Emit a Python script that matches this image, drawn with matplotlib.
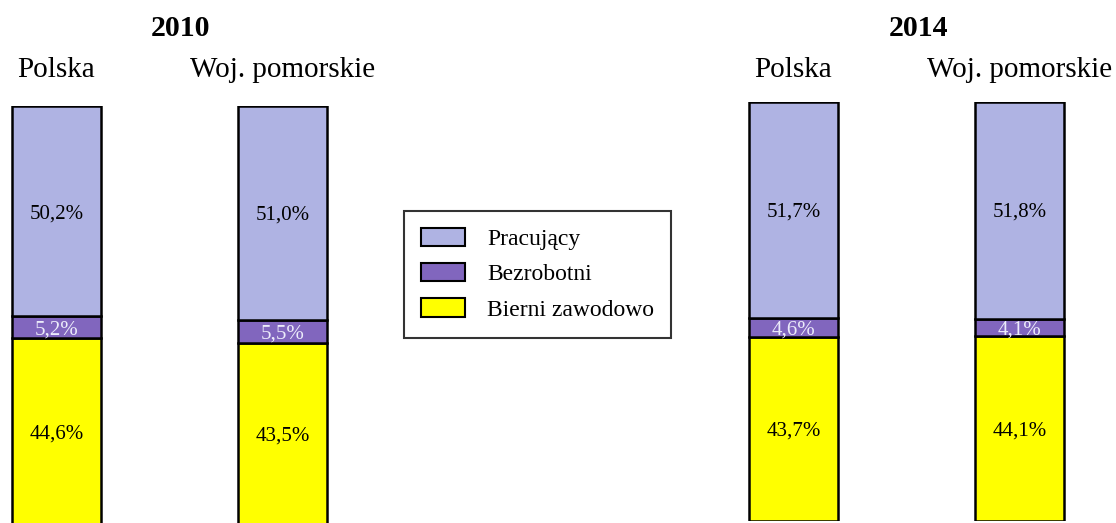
import matplotlib
matplotlib.use("Agg")
import matplotlib.pyplot as plt
import matplotlib.transforms as mtransforms
from matplotlib.patches import Patch

plt.rcParams['font.family'] = ['Liberation Serif', 'DejaVu Serif']

years = ["2010", "2014"]
regions = ["Polska", "Woj. pomorskie"]
series = ["Pracujący", "Bezrobotni", "Bierni zawodowo"]
pracujacy = {"2010": [50.2, 51.0], "2014": [51.7, 51.8]}
bezrobotni = {"2010": [5.2, 5.5], "2014": [4.6, 4.1]}
bierni = {"2010": [44.6, 43.5], "2014": [43.7, 44.1]}

c_prac = "#AFB3E3"
c_bezr = "#8166BE"
c_bier = "#FFFF00"
c_bezr_txt = "#ECECFA"

W, H = 1116, 523
fig = plt.figure(figsize=(W / 100, H / 100), dpi=100)

def fmt(v):
    return f"{v:.1f}%".replace(".", ",")

# axes layout in pixels
layout = {
    "2010": dict(left=0, right=400, top=106, bottom=525, c0=56.5, title_x=181),
    "2014": dict(left=700, right=1116, top=101.5, bottom=520.5, c0=793.5, title_x=919),
}
spacing = 226.0
bar_w = 89.0 / spacing

for yr in years:
    L = layout[yr]
    ax = fig.add_axes([L["left"] / W, 1 - L["bottom"] / H,
                       (L["right"] - L["left"]) / W, (L["bottom"] - L["top"]) / H])
    ax.set_xlim((L["left"] - L["c0"]) / spacing, (L["right"] - L["c0"]) / spacing)
    ax.set_ylim(0, 100)
    ax.axis("off")
    x = list(range(len(regions)))
    b1 = bierni[yr]
    b2 = bezrobotni[yr]
    b3 = pracujacy[yr]
    bot2 = list(b1)
    bot3 = [a + b for a, b in zip(b1, b2)]
    kw = dict(width=bar_w, edgecolor="black", linewidth=1.8)
    ax.bar(x, b1, color=c_bier, **kw)
    ax.bar(x, b2, bottom=bot2, color=c_bezr, **kw)
    ax.bar(x, b3, bottom=bot3, color=c_prac, **kw)
    tr = mtransforms.blended_transform_factory(ax.transData, fig.transFigure)
    for i in x:
        ax.text(i, b1[i] / 2, fmt(b1[i]), ha="center", va="center_baseline", fontsize=15, color="black")
        ax.text(i, bot2[i] + b2[i] / 2, fmt(b2[i]), ha="center", va="center_baseline", fontsize=15, color=c_bezr_txt)
        ax.text(i, bot3[i] + b3[i] / 2, fmt(b3[i]), ha="center", va="center_baseline", fontsize=15, color="black")
        ax.text(i, 1 - 70 / H, regions[i], ha="center", va="center", fontsize=21,
                transform=tr, clip_on=False)
    fig.text(L["title_x"] / W, 1 - 28 / H, yr, ha="center", va="center",
             fontsize=21.5, fontweight="bold")

handles = [Patch(facecolor=c_prac, edgecolor="black", linewidth=1.5),
           Patch(facecolor=c_bezr, edgecolor="black", linewidth=1.5),
           Patch(facecolor=c_bier, edgecolor="black", linewidth=1.5)]
leg = fig.legend(handles, series, loc="upper left",
                 bbox_to_anchor=(404 / W, 1 - 211 / H), bbox_transform=fig.transFigure,
                 borderaxespad=0, fontsize=17, frameon=True, fancybox=False,
                 handlelength=1.86, handleheight=0.8, handletextpad=0.93,
                 labelspacing=0.55, borderpad=0.72)
leg.get_frame().set_edgecolor("black")
leg.get_frame().set_linewidth(1.5)

fig.savefig("out.png", dpi=100, facecolor="white")
